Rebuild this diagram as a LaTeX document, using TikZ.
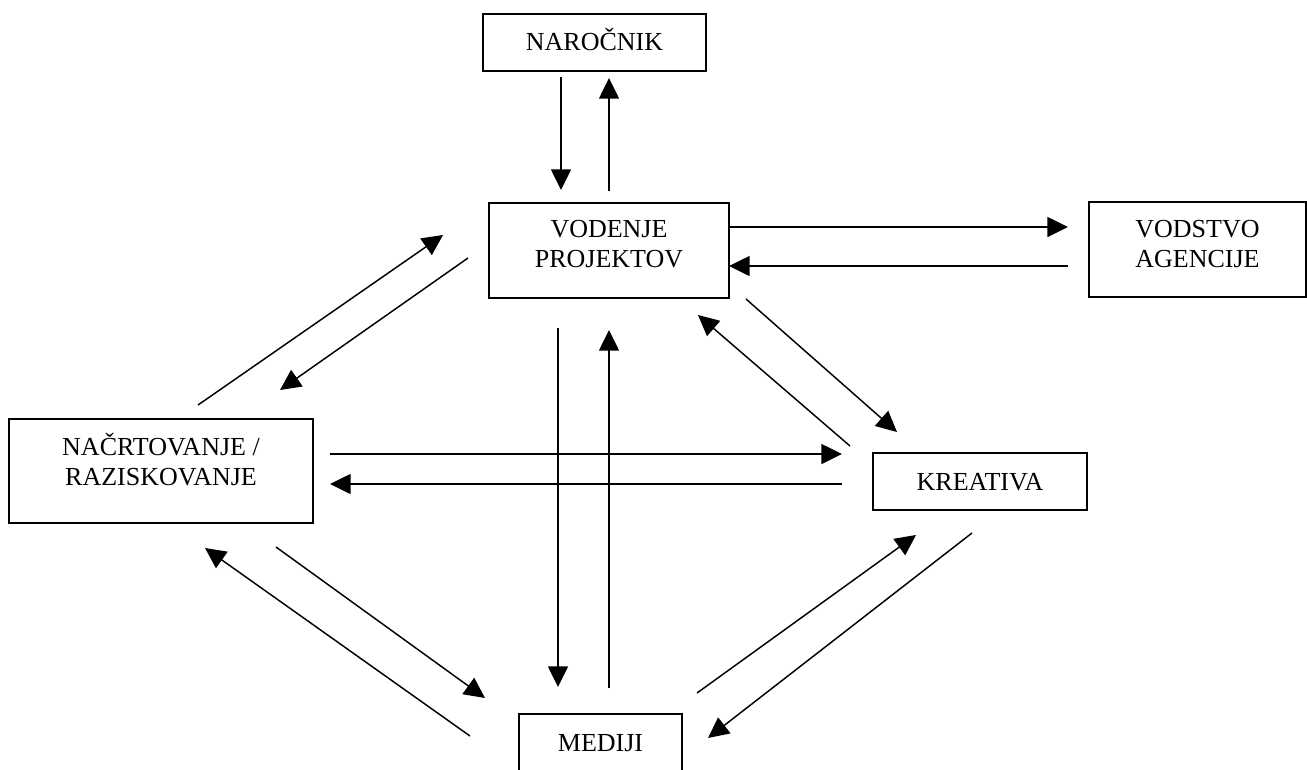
\documentclass[tikz,border=0pt]{standalone}
\usepackage{fontspec}
\setmainfont{Liberation Serif}
\usetikzlibrary{arrows.meta}
\begin{document}
\begin{tikzpicture}[x=0.75pt,y=-0.75pt,
  box/.style={draw, line width=1.5pt, inner sep=0pt},
  lbl/.style={font=\fontsize{19.5}{22.5}\selectfont, align=center, inner sep=0pt, anchor=base},
  arr/.style={line width=1.1pt, -{Triangle[length=15.5pt,width=15pt]}}]
\useasboundingbox (0,0) rectangle (1307,769);
% boxes
\node[box, minimum width=167.25pt, minimum height=42.75pt] (nar) at (594.5,42.5) {};
\node[box, minimum width=180pt, minimum height=71.25pt] (vp) at (609,250.5) {};
\node[box, minimum width=162.75pt, minimum height=71.25pt] (va) at (1197.5,249.5) {};
\node[box, minimum width=228pt, minimum height=78pt] (nr) at (161,471) {};
\node[box, minimum width=160.5pt, minimum height=42.75pt] (kr) at (980,481.5) {};
\node[box, minimum width=122.25pt, minimum height=43.5pt] (me) at (600.5,743) {};
% labels (base anchor = baseline of the last line)
\node[lbl] (nart) at (594.5,50) {NAROČNIK};
\node[lbl] (vpt) at (609,267) {VODENJE\\PROJEKTOV};
\node[lbl] (vat) at (1197.5,267) {VODSTVO\\AGENCIJE};
\node[lbl] (nrt) at (161,485) {NAČRTOVANJE /\\RAZISKOVANJE};
\node[lbl] (krt) at (980,490) {KREATIVA};
\node[lbl] (met) at (600.5,751) {MEDIJI};
% arrow end points
\coordinate (a1s) at (561,77);   \coordinate (a1e) at (561,190);
\coordinate (a2s) at (609,191);  \coordinate (a2e) at (609,78);
\coordinate (a3s) at (729,227);  \coordinate (a3e) at (1068,227);
\coordinate (a4s) at (1068,266); \coordinate (a4e) at (729,266);
\coordinate (a5s) at (198,405);  \coordinate (a5e) at (443,235);
\coordinate (a6s) at (468,258);  \coordinate (a6e) at (280,390);
\coordinate (a7s) at (746,299);  \coordinate (a7e) at (897,432);
\coordinate (a8s) at (850,446);  \coordinate (a8e) at (698,315);
\coordinate (a9s) at (330,454);  \coordinate (a9e) at (842,454);
\coordinate (a10s) at (842,484); \coordinate (a10e) at (330,484);
\coordinate (a11s) at (558,328); \coordinate (a11e) at (558,687);
\coordinate (a12s) at (609,688); \coordinate (a12e) at (609,330);
\coordinate (a13s) at (276,547); \coordinate (a13e) at (485,698);
\coordinate (a14s) at (470,736); \coordinate (a14e) at (205,548);
\coordinate (a15s) at (697,693); \coordinate (a15e) at (916,535);
\coordinate (a16s) at (972,533); \coordinate (a16e) at (708,738);
% connectors
\draw[arr] (a1s) -- (a1e);
\draw[arr] (a2s) -- (a2e);
\draw[arr] (a3s) -- (a3e);
\draw[arr] (a4s) -- (a4e);
\draw[arr] (a5s) -- (a5e);
\draw[arr] (a6s) -- (a6e);
\draw[arr] (a7s) -- (a7e);
\draw[arr] (a8s) -- (a8e);
\draw[arr] (a9s) -- (a9e);
\draw[arr] (a10s) -- (a10e);
\draw[arr] (a11s) -- (a11e);
\draw[arr] (a12s) -- (a12e);
\draw[arr] (a13s) -- (a13e);
\draw[arr] (a14s) -- (a14e);
\draw[arr] (a15s) -- (a15e);
\draw[arr] (a16s) -- (a16e);
\end{tikzpicture}
\end{document}
